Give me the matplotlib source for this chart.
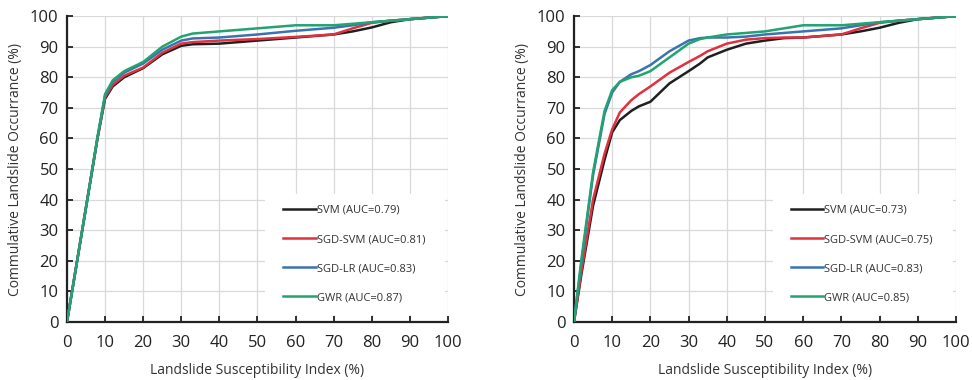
import matplotlib
matplotlib.use("Agg")
import matplotlib.pyplot as plt
from matplotlib.patches import Rectangle

plt.rcParams['font.family'] = ['Open Sans', 'DejaVu Sans']

# left panel
x_left = [0, 2, 4, 6, 8, 10, 12, 15, 20, 25, 30, 33, 40, 50, 60, 70, 75, 80, 85, 90, 95, 100]
svm_left = [0, 15, 30, 45, 60, 73, 77, 80, 83, 87.5, 90.3, 90.8, 91, 92, 93, 94, 95, 96.3, 98, 99, 99.5, 100]
sgd_svm_left = [0, 15, 30, 45, 60, 73.5, 77.5, 80.5, 83.2, 88, 91, 91.5, 92, 92.5, 93.2, 94, 96, 97.8, 98.5, 99, 99.5, 100]
sgd_lr_left = [0, 15, 30, 45, 60, 74, 78.5, 81.5, 84.5, 89, 92, 92.7, 93, 94, 95.2, 96.2, 97, 98, 98.5, 99, 99.5, 100]
gwr_left = [0, 15, 30, 45, 60.5, 74.5, 79, 82, 85, 90, 93.3, 94.3, 95, 96, 97, 97, 97.5, 98, 98.5, 99, 99.5, 100]
labels_left = ['SVM (AUC=0.79)', 'SGD-SVM (AUC=0.81)', 'SGD-LR (AUC=0.83)', 'GWR (AUC=0.87)']

# right panel
x_right = [0, 2, 5, 8, 10, 12, 15, 17, 20, 25, 30, 33, 35, 40, 45, 50, 55, 60, 65, 70, 75, 80, 85, 90, 95, 100]
svm_right = [0, 16, 38, 53, 62, 66, 69, 70.5, 72, 78, 82, 84.5, 86.5, 89, 91, 92, 92.8, 93, 93.5, 94, 95, 96.2, 97.8, 99, 99.5, 100]
sgd_svm_right = [0, 17, 40, 55, 63, 68.5, 72.5, 74.5, 77, 81.5, 85, 87, 88.5, 91, 92.3, 92.8, 93, 93, 93.5, 94, 96, 97.8, 98.5, 99, 99.5, 100]
sgd_lr_right = [0, 20, 48, 68, 75, 78.5, 81, 82, 84, 88.5, 92, 92.8, 93, 93, 93.3, 94, 94.5, 95, 95.5, 96, 97, 98, 98.5, 99, 99.5, 100]
gwr_right = [0, 21, 49, 69, 75.8, 78.5, 80, 80.5, 82, 86.5, 91, 92.5, 93, 94, 94.5, 95, 96, 97, 97, 97, 97.5, 98, 98.5, 99, 99.5, 100]
labels_right = ['SVM (AUC=0.73)', 'SGD-SVM (AUC=0.75)', 'SGD-LR (AUC=0.83)', 'GWR (AUC=0.85)']

colors = ['#1f1f1f', '#e0313f', '#3b73b0', '#22a36f']
ticks = list(range(0, 101, 10))


def draw_panel(ax, x, series, labels):
    for y, c, l in zip(series, colors, labels):
        ax.plot(x, y, color=c, lw=1.8, label=l, solid_joinstyle='round', zorder=3)
    ax.set_xlim(0, 100)
    ax.set_ylim(0, 100)
    ax.set_xticks(ticks)
    ax.set_yticks(ticks)
    ax.grid(True, color='#d9d9d9', lw=0.9)
    ax.set_axisbelow(True)
    # white block behind the legend hides the grid
    ax.add_patch(Rectangle((0.52, 0.023), 0.472, 0.397, transform=ax.transAxes,
                           facecolor='white', edgecolor='none', zorder=1))
    for s in ['top', 'right']:
        ax.spines[s].set_visible(False)
    for s in ['left', 'bottom']:
        ax.spines[s].set_linewidth(1.6)
        ax.spines[s].set_color('#222222')
    ax.tick_params(direction='in', length=4, width=1.3, labelsize=12, colors='#222222')
    ax.tick_params(axis='x', pad=9)
    ax.tick_params(axis='y', pad=6)
    ax.set_xlabel('Landslide Susceptibility Index (%)', fontsize=10, color='#333333', labelpad=9)
    ax.set_ylabel('Commulative Landslide Occurrance (%)', fontsize=10, color='#333333', labelpad=5)
    leg = ax.legend(loc='upper left', bbox_to_anchor=(0.53, 0.43), frameon=False, fontsize=8,
                    handlelength=2.9, handletextpad=0.1, labelspacing=1.63, borderpad=0.8)
    for t in leg.get_texts():
        t.set_color('#333333')


fig = plt.figure(figsize=(9.72, 3.8), dpi=100)
ax1 = fig.add_axes([0.0689, 0.1526, 0.392, 0.805])
ax2 = fig.add_axes([0.5905, 0.1526, 0.393, 0.805])
draw_panel(ax1, x_left, [svm_left, sgd_svm_left, sgd_lr_left, gwr_left], labels_left)
draw_panel(ax2, x_right, [svm_right, sgd_svm_right, sgd_lr_right, gwr_right], labels_right)

fig.savefig('out.png', dpi=100)
